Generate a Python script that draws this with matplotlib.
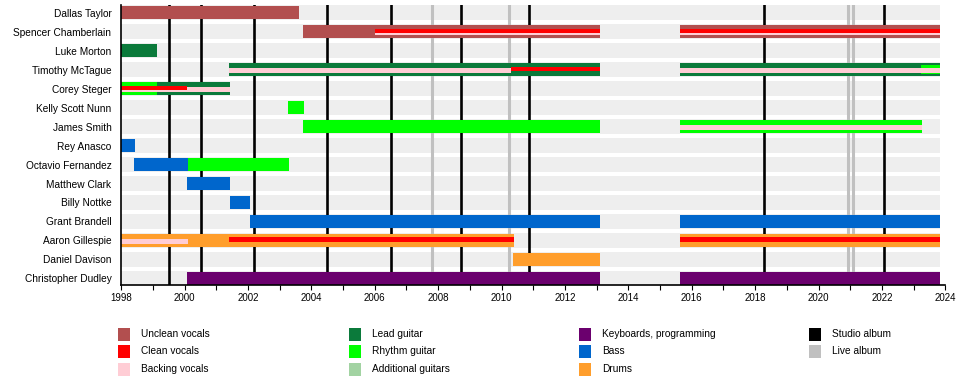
import matplotlib.pyplot as plt
from matplotlib.patches import Rectangle
from matplotlib import ticker

plt.rcParams["font.family"] = ["Liberation Sans", "DejaVu Sans"]

END = 2023.84

members = [
    "Dallas Taylor", "Spencer Chamberlain", "Luke Morton", "Timothy McTague",
    "Corey Steger", "Kelly Scott Nunn", "James Smith", "Rey Anasco",
    "Octavio Fernandez", "Matthew Clark", "Billy Nottke", "Grant Brandell",
    "Aaron Gillespie", "Daniel Davison", "Christopher Dudley",
]

# full-height bars: (member, start, end)
unclean_vocals = [
    ("Dallas Taylor", 1998.0, 2003.62),
    ("Spencer Chamberlain", 2003.75, 2013.10),
    ("Spencer Chamberlain", 2015.63, END),
]
lead_guitar = [
    ("Luke Morton", 1998.0, 1999.14),
    ("Timothy McTague", 2001.41, 2013.10),
    ("Timothy McTague", 2015.63, END),
    ("Corey Steger", 1999.14, 2001.44),
]
rhythm_guitar = [
    ("Corey Steger", 1998.0, 1999.14),
    ("Kelly Scott Nunn", 2003.25, 2003.78),
    ("James Smith", 2003.75, 2013.10),
    ("James Smith", 2015.63, 2023.26),
    ("Octavio Fernandez", 2000.12, 2003.28),
]
bass = [
    ("Rey Anasco", 1998.0, 1998.44),
    ("Octavio Fernandez", 1998.41, 2000.12),
    ("Matthew Clark", 2000.09, 2001.44),
    ("Billy Nottke", 2001.44, 2002.07),
    ("Grant Brandell", 2002.07, 2013.10),
    ("Grant Brandell", 2015.63, END),
]
drums = [
    ("Aaron Gillespie", 1998.0, 2010.38),
    ("Aaron Gillespie", 2015.63, END),
    ("Daniel Davison", 2010.36, 2013.10),
]
keyboards = [
    ("Christopher Dudley", 2000.09, 2013.10),
    ("Christopher Dudley", 2015.63, END),
]

# thin inner stripes: (member, start, end)
rhythm_stripe = [
    ("Timothy McTague", 2023.24, END),
]
backing_stripe = [
    ("Spencer Chamberlain", 2006.0, 2013.10),
    ("Spencer Chamberlain", 2015.63, END),
    ("Timothy McTague", 2001.41, 2010.29),
    ("Timothy McTague", 2015.63, END),
    ("Corey Steger", 1998.0, 2001.44),
    ("James Smith", 2015.63, 2023.26),
    ("Aaron Gillespie", 1998.0, 2000.12),
]
clean_stripe = [
    ("Spencer Chamberlain", 2006.0, 2013.10),
    ("Spencer Chamberlain", 2015.63, END),
    ("Timothy McTague", 2010.29, 2013.10),
    ("Corey Steger", 1998.0, 2000.09),
    ("Aaron Gillespie", 2001.41, 2010.38),
    ("Aaron Gillespie", 2015.63, END),
]

studio_albums = [1999.52, 2000.53, 2002.18, 2004.50, 2006.50, 2008.71,
                 2010.88, 2018.28, 2022.05]
live_albums = [2007.82, 2010.22, 2020.92, 2021.10]

legend_labels = [
    "Unclean vocals", "Clean vocals", "Backing vocals",
    "Lead guitar", "Rhythm guitar", "Additional guitars",
    "Keyboards, programming", "Bass", "Drums",
    "Studio album", "Live album",
]
legend_colors = [
    "#b24f4f", "#ff0000", "#ffcdd5",
    "#0b7a3b", "#00ff00", "#a2d3a2",
    "#6b006e", "#0066cc", "#ff9e2c",
    "#000000", "#c0c0c0",
]

C_UNCLEAN, C_CLEAN, C_BACKING = legend_colors[0:3]
C_LEAD, C_RHYTHM = legend_colors[3:5]
C_KEYS, C_BASS, C_DRUMS = legend_colors[6:9]

fig = plt.figure(figsize=(9.6, 3.8), dpi=100)
ax = fig.add_axes([0.1262, 0.2487, 0.8586, 0.7382])

row = {m: i for i, m in enumerate(members)}

# background bands
ax.barh(range(len(members)), END - 1998.0, left=1998.0, height=0.78,
        color="#eeeeee", zorder=1)

for x in studio_albums:
    ax.axvline(x, color="black", lw=1.9, zorder=2)
for x in live_albums:
    ax.axvline(x, color="#c0c0c0", lw=2.2, zorder=2)


def draw(spans, color, height, offset=0.0, z=3):
    ys = [row[m] + offset for m, s, e in spans]
    widths = [e - s for m, s, e in spans]
    lefts = [s for m, s, e in spans]
    ax.barh(ys, widths, left=lefts, height=height, color=color,
            linewidth=0, zorder=z)


draw(unclean_vocals, C_UNCLEAN, 0.72)
draw(lead_guitar, C_LEAD, 0.72)
draw(rhythm_guitar, C_RHYTHM, 0.72)
draw(bass, C_BASS, 0.72)
draw(drums, C_DRUMS, 0.72)
draw(keyboards, C_KEYS, 0.72)
draw(rhythm_stripe, C_RHYTHM, 0.44, 0.0, 4)
draw(backing_stripe, C_BACKING, 0.26, 0.06, 5)
draw(clean_stripe, C_CLEAN, 0.24, -0.04, 6)

ax.set_xlim(1998, 2024)
ax.set_ylim(len(members) - 1 + 0.37, -0.40)
ax.set_yticks(range(len(members)))
ax.set_yticklabels(members, fontsize=7.3)
ax.tick_params(axis="y", length=0, pad=7)

ax.xaxis.set_major_locator(ticker.MultipleLocator(2))
ax.xaxis.set_minor_locator(ticker.MultipleLocator(1))
ax.tick_params(axis="x", which="both", length=3.5, width=0.8, labelsize=7,
               pad=2, direction="out")

for side in ("top", "right"):
    ax.spines[side].set_visible(False)
for side in ("left", "bottom"):
    ax.spines[side].set_linewidth(1.2)
    ax.spines[side].set_zorder(7)

# legend, laid out in four columns
col_x = [118, 349, 579, 809]
row_y = [334, 351.5, 369]
W, H = 960.0, 380.0
for i, (lab, col) in enumerate(zip(legend_labels, legend_colors)):
    c, r = i // 3, i % 3
    x, y = col_x[c], row_y[r]
    fig.add_artist(Rectangle((x / W, 1 - (y + 6.5) / H), 12 / W, 13 / H,
                             transform=fig.transFigure, color=col, lw=0))
    fig.text((x + 23) / W, 1 - y / H, lab, fontsize=7.3, va="center",
             ha="left")

fig.savefig("out.png", dpi=100, facecolor="white")
